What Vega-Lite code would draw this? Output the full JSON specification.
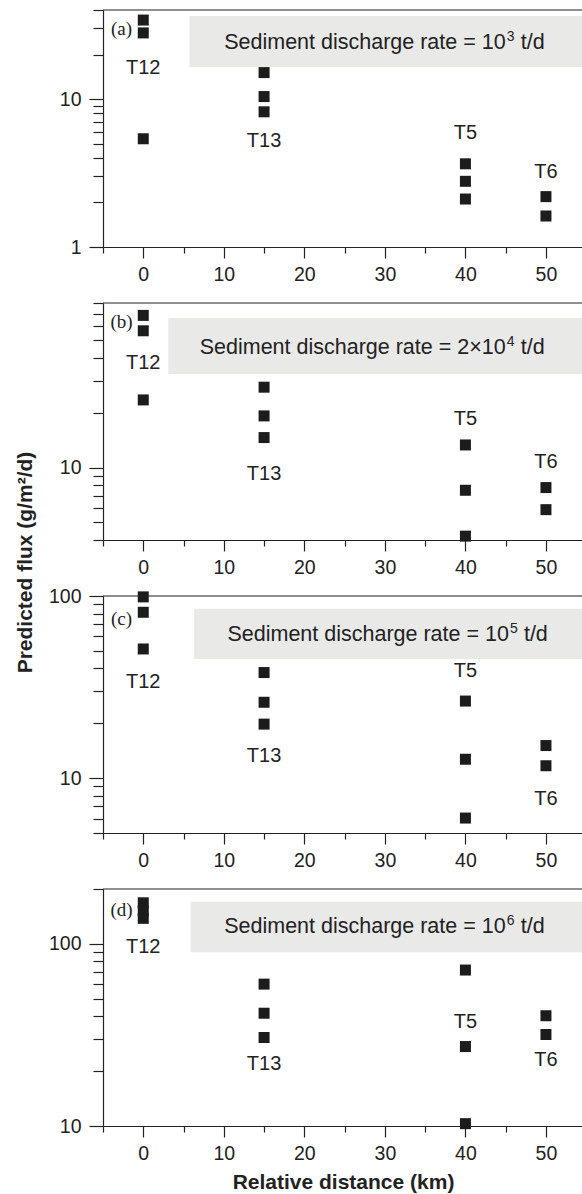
{
  "$schema": "https://vega.github.io/schema/vega-lite/v6.json",
  "padding": {"left": 13, "top": 0, "right": 0, "bottom": 0},
  "datasets": {
    "pts": [
      {"panel": "a", "x": 0, "y": 34.2}, {"panel": "a", "x": 0, "y": 28.0}, {"panel": "a", "x": 0, "y": 5.39},
      {"panel": "a", "x": 15, "y": 15.1}, {"panel": "a", "x": 15, "y": 10.4}, {"panel": "a", "x": 15, "y": 8.2},
      {"panel": "a", "x": 40, "y": 3.65}, {"panel": "a", "x": 40, "y": 2.78}, {"panel": "a", "x": 40, "y": 2.11},
      {"panel": "a", "x": 50, "y": 2.19}, {"panel": "a", "x": 50, "y": 1.62},
      {"panel": "b", "x": 0, "y": 68.4}, {"panel": "b", "x": 0, "y": 56.3}, {"panel": "b", "x": 0, "y": 23.5},
      {"panel": "b", "x": 15, "y": 27.6}, {"panel": "b", "x": 15, "y": 19.2}, {"panel": "b", "x": 15, "y": 14.6},
      {"panel": "b", "x": 40, "y": 13.3}, {"panel": "b", "x": 40, "y": 7.5}, {"panel": "b", "x": 40, "y": 4.2},
      {"panel": "b", "x": 50, "y": 7.76}, {"panel": "b", "x": 50, "y": 5.87},
      {"panel": "c", "x": 0, "y": 98.9}, {"panel": "c", "x": 0, "y": 81.4}, {"panel": "c", "x": 0, "y": 51.2},
      {"panel": "c", "x": 15, "y": 38.0}, {"panel": "c", "x": 15, "y": 26.1}, {"panel": "c", "x": 15, "y": 19.8},
      {"panel": "c", "x": 40, "y": 26.5}, {"panel": "c", "x": 40, "y": 12.7}, {"panel": "c", "x": 40, "y": 6.04},
      {"panel": "c", "x": 50, "y": 15.1}, {"panel": "c", "x": 50, "y": 11.7},
      {"panel": "d", "x": 0, "y": 168}, {"panel": "d", "x": 0, "y": 152}, {"panel": "d", "x": 0, "y": 138},
      {"panel": "d", "x": 15, "y": 60.1}, {"panel": "d", "x": 15, "y": 41.6}, {"panel": "d", "x": 15, "y": 30.6},
      {"panel": "d", "x": 40, "y": 71.8}, {"panel": "d", "x": 40, "y": 27.3}, {"panel": "d", "x": 40, "y": 10.3},
      {"panel": "d", "x": 50, "y": 40.3}, {"panel": "d", "x": 50, "y": 31.8}
    ],
    "labels": [
      {"panel": "a", "x": 0, "y": 16.3, "label": "T12"}, {"panel": "a", "x": 15, "y": 5.2, "label": "T13"},
      {"panel": "a", "x": 40, "y": 5.9, "label": "T5"}, {"panel": "a", "x": 50, "y": 3.2, "label": "T6"},
      {"panel": "b", "x": 0, "y": 37.4, "label": "T12"}, {"panel": "b", "x": 15, "y": 9.27, "label": "T13"},
      {"panel": "b", "x": 40, "y": 18.4, "label": "T5"}, {"panel": "b", "x": 50, "y": 10.7, "label": "T6"},
      {"panel": "c", "x": 0, "y": 33.9, "label": "T12"}, {"panel": "c", "x": 15, "y": 13.2, "label": "T13"},
      {"panel": "c", "x": 40, "y": 38.7, "label": "T5"}, {"panel": "c", "x": 50, "y": 7.69, "label": "T6"},
      {"panel": "d", "x": 0, "y": 95.5, "label": "T12"}, {"panel": "d", "x": 15, "y": 22.0, "label": "T13"},
      {"panel": "d", "x": 40, "y": 37.2, "label": "T5"}, {"panel": "d", "x": 50, "y": 23.0, "label": "T6"}
    ],
    "boxes": [
      {"panel": "a", "x": 5.74, "x2": 54.6, "y": 36.4, "y2": 16.5, "xe": 45.0, "ty": 24.0, "text": "Sediment discharge rate = 10", "sup": "3", "unit": "t/d"},
      {"panel": "b", "x": 3.1, "x2": 54.6, "y": 66.1, "y2": 32.6, "xe": 45.0, "ty": 45.2, "text": "Sediment discharge rate = 2×10", "sup": "4", "unit": "t/d"},
      {"panel": "c", "x": 6.33, "x2": 54.6, "y": 85.1, "y2": 45.1, "xe": 45.4, "ty": 61.2, "text": "Sediment discharge rate = 10", "sup": "5", "unit": "t/d"},
      {"panel": "d", "x": 5.87, "x2": 54.6, "y": 170.2, "y2": 89.8, "xe": 45.0, "ty": 123, "text": "Sediment discharge rate = 10", "sup": "6", "unit": "t/d"}
    ],
    "letters": [
      {"panel": "a", "x": -2.7, "y": 29.6, "label": "(a)"},
      {"panel": "b", "x": -2.7, "y": 62.8, "label": "(b)"},
      {"panel": "c", "x": -2.7, "y": 75.0, "label": "(c)"},
      {"panel": "d", "x": -2.7, "y": 153.5, "label": "(d)"}
    ]
  },
  "spacing": 56,
  "bounds": "flush",
  "vconcat": [
    {
      "width": 480, "height": 237,
      "layer": [
        {"data": {"name": "boxes"}, "transform": [{"filter": "datum.panel === 'a'"}],
         "mark": {"type": "rect", "color": "#e9e9e8"},
         "encoding": {
           "x": {"field": "x", "type": "quantitative", "title": null, "scale": {"domain": [-5, 54.6], "nice": false, "zero": false},
                 "axis": {"values": [-5, 0, 5, 10, 15, 20, 25, 30, 35, 40, 45, 50], "labelExpr": "datum.value % 10 === 0 ? datum.label : ''", "tickSize": {"condition": {"test": "datum.value % 10 === 0", "value": 11}, "value": 6}}},
           "x2": {"field": "x2"},
           "y": {"field": "y", "type": "quantitative", "title": null, "scale": {"type": "log", "domain": [1, 40], "nice": false},
                 "axis": {"values": [1, 2, 3, 4, 5, 6, 7, 8, 9, 10, 20, 30, 40], "labelExpr": "datum.value === 1 || datum.value === 10 || datum.value === 100 ? datum.value + '' : ''", "tickSize": {"condition": {"test": "datum.value === 1 || datum.value === 10 || datum.value === 100", "value": 14}, "value": 10}}},
           "y2": {"field": "y2"}
         }},
        {"data": {"name": "boxes"}, "transform": [{"filter": "datum.panel === 'a'"}],
         "mark": {"type": "text", "fontSize": 21.5, "align": "right", "baseline": "middle", "font": "Liberation Sans", "color": "#222"},
         "encoding": {"x": {"field": "xe", "type": "quantitative", "title": null}, "y": {"field": "ty", "type": "quantitative", "title": null}, "text": {"field": "text"}}},
        {"data": {"name": "boxes"}, "transform": [{"filter": "datum.panel === 'a'"}],
         "mark": {"type": "text", "fontSize": 14, "align": "left", "baseline": "middle", "dx": 1, "dy": -6, "font": "Liberation Sans", "color": "#222"},
         "encoding": {"x": {"field": "xe", "type": "quantitative", "title": null}, "y": {"field": "ty", "type": "quantitative", "title": null}, "text": {"field": "sup"}}},
        {"data": {"name": "boxes"}, "transform": [{"filter": "datum.panel === 'a'"}],
         "mark": {"type": "text", "fontSize": 21.5, "align": "left", "baseline": "middle", "dx": 15, "font": "Liberation Sans", "color": "#222"},
         "encoding": {"x": {"field": "xe", "type": "quantitative", "title": null}, "y": {"field": "ty", "type": "quantitative", "title": null}, "text": {"field": "unit"}}},
        {"data": {"name": "pts"}, "transform": [{"filter": "datum.panel === 'a'"}],
         "mark": {"type": "square", "size": 121, "color": "#1c1c1c", "opacity": 1},
         "encoding": {"x": {"field": "x", "type": "quantitative", "title": null}, "y": {"field": "y", "type": "quantitative", "title": null}}},
        {"data": {"name": "labels"}, "transform": [{"filter": "datum.panel === 'a'"}],
         "mark": {"type": "text", "fontSize": 20, "font": "Liberation Sans", "color": "#222", "baseline": "middle"},
         "encoding": {"x": {"field": "x", "type": "quantitative", "title": null}, "y": {"field": "y", "type": "quantitative", "title": null}, "text": {"field": "label"}}},
        {"data": {"name": "letters"}, "transform": [{"filter": "datum.panel === 'a'"}],
         "mark": {"type": "text", "fontSize": 19, "font": "Liberation Serif", "color": "#222", "baseline": "middle"},
         "encoding": {"x": {"field": "x", "type": "quantitative", "title": null}, "y": {"field": "y", "type": "quantitative", "title": null}, "text": {"field": "label"}}},
        {"data": {"name": "boxes"}, "transform": [{"filter": "datum.panel === 'a'"}],
         "mark": {"type": "rule", "color": "#222", "strokeWidth": 1.2},
         "encoding": {"y": {"datum": 40}}}
      ]
    },
    {
      "width": 480, "height": 237,
      "layer": [
        {"data": {"name": "boxes"}, "transform": [{"filter": "datum.panel === 'b'"}],
         "mark": {"type": "rect", "color": "#e9e9e8"},
         "encoding": {
           "x": {"field": "x", "type": "quantitative", "title": null, "scale": {"domain": [-5, 54.6], "nice": false, "zero": false},
                 "axis": {"values": [-5, 0, 5, 10, 15, 20, 25, 30, 35, 40, 45, 50], "labelExpr": "datum.value % 10 === 0 ? datum.label : ''", "tickSize": {"condition": {"test": "datum.value % 10 === 0", "value": 11}, "value": 6}}},
           "x2": {"field": "x2"},
           "y": {"field": "y", "type": "quantitative", "title": null, "scale": {"type": "log", "domain": [4, 80], "nice": false},
                 "axis": {"values": [4, 5, 6, 7, 8, 9, 10, 20, 30, 40, 50, 60, 70, 80], "labelExpr": "datum.value === 1 || datum.value === 10 || datum.value === 100 ? datum.value + '' : ''", "tickSize": {"condition": {"test": "datum.value === 1 || datum.value === 10 || datum.value === 100", "value": 14}, "value": 10}}},
           "y2": {"field": "y2"}
         }},
        {"data": {"name": "boxes"}, "transform": [{"filter": "datum.panel === 'b'"}],
         "mark": {"type": "text", "fontSize": 21.5, "align": "right", "baseline": "middle", "font": "Liberation Sans", "color": "#222"},
         "encoding": {"x": {"field": "xe", "type": "quantitative", "title": null}, "y": {"field": "ty", "type": "quantitative", "title": null}, "text": {"field": "text"}}},
        {"data": {"name": "boxes"}, "transform": [{"filter": "datum.panel === 'b'"}],
         "mark": {"type": "text", "fontSize": 14, "align": "left", "baseline": "middle", "dx": 1, "dy": -6, "font": "Liberation Sans", "color": "#222"},
         "encoding": {"x": {"field": "xe", "type": "quantitative", "title": null}, "y": {"field": "ty", "type": "quantitative", "title": null}, "text": {"field": "sup"}}},
        {"data": {"name": "boxes"}, "transform": [{"filter": "datum.panel === 'b'"}],
         "mark": {"type": "text", "fontSize": 21.5, "align": "left", "baseline": "middle", "dx": 15, "font": "Liberation Sans", "color": "#222"},
         "encoding": {"x": {"field": "xe", "type": "quantitative", "title": null}, "y": {"field": "ty", "type": "quantitative", "title": null}, "text": {"field": "unit"}}},
        {"data": {"name": "pts"}, "transform": [{"filter": "datum.panel === 'b'"}],
         "mark": {"type": "square", "size": 121, "color": "#1c1c1c", "opacity": 1},
         "encoding": {"x": {"field": "x", "type": "quantitative", "title": null}, "y": {"field": "y", "type": "quantitative", "title": null}}},
        {"data": {"name": "labels"}, "transform": [{"filter": "datum.panel === 'b'"}],
         "mark": {"type": "text", "fontSize": 20, "font": "Liberation Sans", "color": "#222", "baseline": "middle"},
         "encoding": {"x": {"field": "x", "type": "quantitative", "title": null}, "y": {"field": "y", "type": "quantitative", "title": null}, "text": {"field": "label"}}},
        {"data": {"name": "letters"}, "transform": [{"filter": "datum.panel === 'b'"}],
         "mark": {"type": "text", "fontSize": 19, "font": "Liberation Serif", "color": "#222", "baseline": "middle"},
         "encoding": {"x": {"field": "x", "type": "quantitative", "title": null}, "y": {"field": "y", "type": "quantitative", "title": null}, "text": {"field": "label"}}},
        {"data": {"name": "boxes"}, "transform": [{"filter": "datum.panel === 'b'"}],
         "mark": {"type": "rule", "color": "#222", "strokeWidth": 1.2},
         "encoding": {"y": {"datum": 80}}}
      ]
    },
    {
      "width": 480, "height": 237,
      "layer": [
        {"data": {"name": "boxes"}, "transform": [{"filter": "datum.panel === 'c'"}],
         "mark": {"type": "rect", "color": "#e9e9e8"},
         "encoding": {
           "x": {"field": "x", "type": "quantitative", "title": null, "scale": {"domain": [-5, 54.6], "nice": false, "zero": false},
                 "axis": {"values": [-5, 0, 5, 10, 15, 20, 25, 30, 35, 40, 45, 50], "labelExpr": "datum.value % 10 === 0 ? datum.label : ''", "tickSize": {"condition": {"test": "datum.value % 10 === 0", "value": 11}, "value": 6}}},
           "x2": {"field": "x2"},
           "y": {"field": "y", "type": "quantitative", "title": "Predicted flux (g/m²/d)", "scale": {"type": "log", "domain": [5, 100], "nice": false},
                 "axis": {"title": "Predicted flux (g/m²/d)", "titleX": -78, "titleY": -34, "titleAngle": -90, "titleAlign": "center", "titleBaseline": "middle",
                          "values": [5, 6, 7, 8, 9, 10, 20, 30, 40, 50, 60, 70, 80, 90, 100], "labelExpr": "datum.value === 1 || datum.value === 10 || datum.value === 100 ? datum.value + '' : ''", "tickSize": {"condition": {"test": "datum.value === 1 || datum.value === 10 || datum.value === 100", "value": 14}, "value": 10}}},
           "y2": {"field": "y2"}
         }},
        {"data": {"name": "boxes"}, "transform": [{"filter": "datum.panel === 'c'"}],
         "mark": {"type": "text", "fontSize": 21.5, "align": "right", "baseline": "middle", "font": "Liberation Sans", "color": "#222"},
         "encoding": {"x": {"field": "xe", "type": "quantitative", "title": null}, "y": {"field": "ty", "type": "quantitative", "title": "Predicted flux (g/m²/d)"}, "text": {"field": "text"}}},
        {"data": {"name": "boxes"}, "transform": [{"filter": "datum.panel === 'c'"}],
         "mark": {"type": "text", "fontSize": 14, "align": "left", "baseline": "middle", "dx": 1, "dy": -6, "font": "Liberation Sans", "color": "#222"},
         "encoding": {"x": {"field": "xe", "type": "quantitative", "title": null}, "y": {"field": "ty", "type": "quantitative", "title": "Predicted flux (g/m²/d)"}, "text": {"field": "sup"}}},
        {"data": {"name": "boxes"}, "transform": [{"filter": "datum.panel === 'c'"}],
         "mark": {"type": "text", "fontSize": 21.5, "align": "left", "baseline": "middle", "dx": 15, "font": "Liberation Sans", "color": "#222"},
         "encoding": {"x": {"field": "xe", "type": "quantitative", "title": null}, "y": {"field": "ty", "type": "quantitative", "title": "Predicted flux (g/m²/d)"}, "text": {"field": "unit"}}},
        {"data": {"name": "pts"}, "transform": [{"filter": "datum.panel === 'c'"}],
         "mark": {"type": "square", "size": 121, "color": "#1c1c1c", "opacity": 1},
         "encoding": {"x": {"field": "x", "type": "quantitative", "title": null}, "y": {"field": "y", "type": "quantitative", "title": "Predicted flux (g/m²/d)"}}},
        {"data": {"name": "labels"}, "transform": [{"filter": "datum.panel === 'c'"}],
         "mark": {"type": "text", "fontSize": 20, "font": "Liberation Sans", "color": "#222", "baseline": "middle"},
         "encoding": {"x": {"field": "x", "type": "quantitative", "title": null}, "y": {"field": "y", "type": "quantitative", "title": "Predicted flux (g/m²/d)"}, "text": {"field": "label"}}},
        {"data": {"name": "letters"}, "transform": [{"filter": "datum.panel === 'c'"}],
         "mark": {"type": "text", "fontSize": 19, "font": "Liberation Serif", "color": "#222", "baseline": "middle"},
         "encoding": {"x": {"field": "x", "type": "quantitative", "title": null}, "y": {"field": "y", "type": "quantitative", "title": "Predicted flux (g/m²/d)"}, "text": {"field": "label"}}},
        {"data": {"name": "boxes"}, "transform": [{"filter": "datum.panel === 'c'"}],
         "mark": {"type": "rule", "color": "#222", "strokeWidth": 1.2},
         "encoding": {"y": {"datum": 100}}}
      ]
    },
    {
      "width": 480, "height": 237,
      "layer": [
        {"data": {"name": "boxes"}, "transform": [{"filter": "datum.panel === 'd'"}],
         "mark": {"type": "rect", "color": "#e9e9e8"},
         "encoding": {
           "x": {"field": "x", "type": "quantitative", "title": "Relative distance (km)", "scale": {"domain": [-5, 54.6], "nice": false, "zero": false},
                 "axis": {"title": "Relative distance (km)", "titlePadding": 9, "values": [-5, 0, 5, 10, 15, 20, 25, 30, 35, 40, 45, 50], "labelExpr": "datum.value % 10 === 0 ? datum.label : ''", "tickSize": {"condition": {"test": "datum.value % 10 === 0", "value": 11}, "value": 6}}},
           "x2": {"field": "x2"},
           "y": {"field": "y", "type": "quantitative", "title": null, "scale": {"type": "log", "domain": [10, 200], "nice": false},
                 "axis": {"values": [10, 20, 30, 40, 50, 60, 70, 80, 90, 100, 200], "labelExpr": "datum.value === 1 || datum.value === 10 || datum.value === 100 ? datum.value + '' : ''", "tickSize": {"condition": {"test": "datum.value === 1 || datum.value === 10 || datum.value === 100", "value": 14}, "value": 10}}},
           "y2": {"field": "y2"}
         }},
        {"data": {"name": "boxes"}, "transform": [{"filter": "datum.panel === 'd'"}],
         "mark": {"type": "text", "fontSize": 21.5, "align": "right", "baseline": "middle", "font": "Liberation Sans", "color": "#222"},
         "encoding": {"x": {"field": "xe", "type": "quantitative", "title": "Relative distance (km)"}, "y": {"field": "ty", "type": "quantitative", "title": null}, "text": {"field": "text"}}},
        {"data": {"name": "boxes"}, "transform": [{"filter": "datum.panel === 'd'"}],
         "mark": {"type": "text", "fontSize": 14, "align": "left", "baseline": "middle", "dx": 1, "dy": -6, "font": "Liberation Sans", "color": "#222"},
         "encoding": {"x": {"field": "xe", "type": "quantitative", "title": "Relative distance (km)"}, "y": {"field": "ty", "type": "quantitative", "title": null}, "text": {"field": "sup"}}},
        {"data": {"name": "boxes"}, "transform": [{"filter": "datum.panel === 'd'"}],
         "mark": {"type": "text", "fontSize": 21.5, "align": "left", "baseline": "middle", "dx": 15, "font": "Liberation Sans", "color": "#222"},
         "encoding": {"x": {"field": "xe", "type": "quantitative", "title": "Relative distance (km)"}, "y": {"field": "ty", "type": "quantitative", "title": null}, "text": {"field": "unit"}}},
        {"data": {"name": "pts"}, "transform": [{"filter": "datum.panel === 'd'"}],
         "mark": {"type": "square", "size": 121, "color": "#1c1c1c", "opacity": 1},
         "encoding": {"x": {"field": "x", "type": "quantitative", "title": "Relative distance (km)"}, "y": {"field": "y", "type": "quantitative", "title": null}}},
        {"data": {"name": "labels"}, "transform": [{"filter": "datum.panel === 'd'"}],
         "mark": {"type": "text", "fontSize": 20, "font": "Liberation Sans", "color": "#222", "baseline": "middle"},
         "encoding": {"x": {"field": "x", "type": "quantitative", "title": "Relative distance (km)"}, "y": {"field": "y", "type": "quantitative", "title": null}, "text": {"field": "label"}}},
        {"data": {"name": "letters"}, "transform": [{"filter": "datum.panel === 'd'"}],
         "mark": {"type": "text", "fontSize": 19, "font": "Liberation Serif", "color": "#222", "baseline": "middle"},
         "encoding": {"x": {"field": "x", "type": "quantitative", "title": "Relative distance (km)"}, "y": {"field": "y", "type": "quantitative", "title": null}, "text": {"field": "label"}}},
        {"data": {"name": "boxes"}, "transform": [{"filter": "datum.panel === 'd'"}],
         "mark": {"type": "rule", "color": "#222", "strokeWidth": 1.2},
         "encoding": {"y": {"datum": 200}}}
      ]
    }
  ],
  "config": {
    "view": {"stroke": null},
    "axis": {
      "grid": false,
      "labelFont": "Liberation Sans", "labelFontSize": 19.5, "labelColor": "#222",
      "domainColor": "#222", "domainWidth": 1.2, "tickColor": "#222", "tickWidth": 1.2,
      "titleFont": "Liberation Sans", "titleFontSize": 21, "titleFontWeight": "bold", "titleColor": "#222",
      "labelOverlap": false, "labelFlush": false
    },
    "axisX": {"labelPadding": 7},
    "axisY": {"labelPadding": 8}
  }
}
